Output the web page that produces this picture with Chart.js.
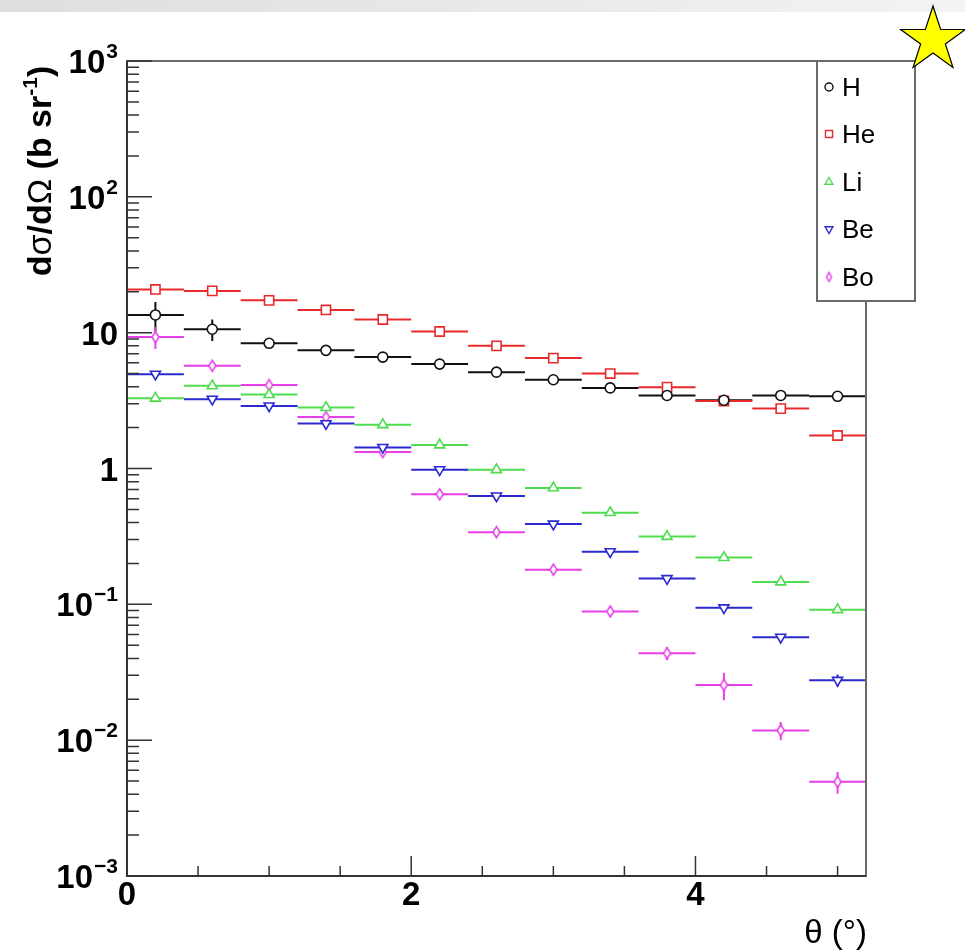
<!DOCTYPE html>
<html>
<head>
<meta charset="utf-8">
<title>dσ/dΩ vs θ</title>
<script src="https://cdn.jsdelivr.net/npm/chart.js@4.4.1/dist/chart.umd.min.js"></script>
<style>
  html, body { margin: 0; padding: 0; background: #fff; }
  #wrap { width: 965px; height: 952px; }
</style>
</head>
<body>
<div id="wrap"><canvas id="xsec" width="965" height="952"></canvas></div>
<script>
// bin centres (deg); every bin is 0.4 deg wide
const THETA = [0.2, 0.6, 1.0, 1.4, 1.8, 2.2, 2.6, 3.0, 3.4, 3.8, 4.2, 4.6, 5.0];
const BIN_HALF = 0.2;

// dσ/dΩ in b/sr, with the statistical error of each bin
const H_VAL  = [13.5, 10.6, 8.35, 7.41, 6.61, 5.87, 5.12, 4.50, 3.92, 3.45, 3.18, 3.45, 3.40];
const H_ERR  = [3.3, 1.9, 0.6, 0.3, 0.2, 0.15, 0.12, 0.1, 0.1, 0.1, 0.12, 0.1, 0.1];
const HE_VAL = [20.8, 20.3, 17.3, 14.7, 12.5, 10.2, 8.0, 6.5, 5.0, 3.97, 3.14, 2.76, 1.75];
const HE_ERR = [0.5, 0.5, 0.4, 0.3, 0.3, 0.2, 0.2, 0.15, 0.12, 0.1, 0.1, 0.08, 0.06];
const LI_VAL = [3.29, 4.06, 3.50, 2.81, 2.10, 1.49, 0.98, 0.72, 0.473, 0.316, 0.221, 0.146, 0.0912];
const LI_ERR = [0.15, 0.15, 0.12, 0.08, 0.06, 0.04, 0.03, 0.02, 0.012, 0.008, 0.006, 0.005, 0.003];
const BE_VAL = [4.95, 3.24, 2.89, 2.14, 1.43, 0.98, 0.628, 0.390, 0.244, 0.155, 0.0944, 0.0573, 0.0276];
const BE_ERR = [0.2, 0.12, 0.1, 0.07, 0.05, 0.03, 0.02, 0.012, 0.008, 0.005, 0.004, 0.003, 0.0028];
const BO_VAL = [9.29, 5.70, 4.11, 2.39, 1.32, 0.646, 0.340, 0.180, 0.0887, 0.0437, 0.0255, 0.0118, 0.00494];
const BO_ERR = [1.7, 0.3, 0.25, 0.15, 0.08, 0.04, 0.02, 0.012, 0.006, 0.0047, 0.0058, 0.0018, 0.0009];

const SPECIES = ['H', 'He', 'Li', 'Be', 'Bo'];

// axis ticks
const Y_DECADES = [-3, -2, -1, 0, 1, 2, 3];
const Y_MINOR_MULT = [2, 3, 4, 5, 6, 7, 8, 9];
const X_MAJOR = [0, 2, 4];
const X_MINOR = [0.5, 1, 1.5, 2.5, 3, 3.5, 4.5, 5];

const FONT = "'Liberation Sans', Arial, Helvetica, sans-serif";

// open diamond, narrower than it is tall
function diamondMarker(color, w, h) {
  const c = document.createElement('canvas');
  c.width = w + 4;
  c.height = h + 4;
  const g = c.getContext('2d');
  g.beginPath();
  g.moveTo(c.width / 2, 2);
  g.lineTo(c.width - 2, c.height / 2);
  g.lineTo(c.width / 2, c.height - 2);
  g.lineTo(2, c.height / 2);
  g.closePath();
  g.fillStyle = '#fff';
  g.fill();
  g.strokeStyle = color;
  g.lineWidth = 1.5;
  g.stroke();
  return c;
}

const STYLE = [
  { color: '#111111', pointStyle: 'circle', radius: 5, rotation: 0, legendRadius: 4 },
  { color: '#ea2a2a', pointStyle: 'rect', radius: 6.5, rotation: 0, legendRadius: 5 },
  { color: '#4fdc4f', pointStyle: 'triangle', radius: 5.8, rotation: 0, legendRadius: 4.5 },
  { color: '#2a2ad0', pointStyle: 'triangle', radius: 5.8, rotation: 180, legendRadius: 4.5 },
  { color: '#e83ee8', pointStyle: null, radius: 5, rotation: 0, legendRadius: 4 },
];
STYLE[4].pointStyle = diamondMarker(STYLE[4].color, 7, 11);

const VALUES = [H_VAL, HE_VAL, LI_VAL, BE_VAL, BO_VAL];
const ERRORS = [H_ERR, HE_ERR, LI_ERR, BE_ERR, BO_ERR];

function toPoints(vals, errs) {
  return THETA.map((t, i) => ({ x: t, y: vals[i], err: errs[i] }));
}

const datasets = SPECIES.map((name, k) => ({
  label: name,
  data: toPoints(VALUES[k], ERRORS[k]),
  showLine: false,
  pointStyle: STYLE[k].pointStyle,
  pointRotation: STYLE[k].rotation,
  pointRadius: STYLE[k].radius,
  pointHoverRadius: STYLE[k].radius,
  pointBorderWidth: 1.6,
  pointBorderColor: STYLE[k].color,
  pointBackgroundColor: '#ffffff',
  borderColor: STYLE[k].color,
}));

// horizontal bin-width bars and vertical error bars
const errorBars = {
  id: 'errorBars',
  beforeDatasetsDraw(chart) {
    const { ctx, chartArea, scales } = chart;
    const xs = scales.x, ys = scales.y;
    ctx.save();
    ctx.beginPath();
    ctx.rect(chartArea.left, chartArea.top, chartArea.right - chartArea.left, chartArea.bottom - chartArea.top);
    ctx.clip();
    ctx.lineWidth = 2;
    chart.data.datasets.forEach((ds, k) => {
      ctx.strokeStyle = STYLE[k].color;
      ds.data.forEach((p) => {
        const py = ys.getPixelForValue(p.y);
        const px = xs.getPixelForValue(p.x);
        ctx.beginPath();
        ctx.moveTo(xs.getPixelForValue(p.x - BIN_HALF), py);
        ctx.lineTo(xs.getPixelForValue(p.x + BIN_HALF), py);
        ctx.moveTo(px, ys.getPixelForValue(p.y + p.err));
        ctx.lineTo(px, ys.getPixelForValue(Math.max(p.y - p.err, 1e-4)));
        ctx.stroke();
      });
    });
    ctx.restore();
  },
};

function drawPower(ctx, exp, right, baseline) {
  const mainFont = 'bold 33px ' + FONT;
  const supFont = 'bold 21px ' + FONT;
  if (exp === 0 || exp === 1) {
    ctx.font = mainFont;
    ctx.textAlign = 'right';
    ctx.fillText(exp === 0 ? '1' : '10', right, baseline);
    return;
  }
  const sup = exp < 0 ? '\u2212' + Math.abs(exp) : String(exp);
  ctx.font = supFont;
  const supW = ctx.measureText(sup).width;
  ctx.textAlign = 'right';
  ctx.fillText(sup, right, baseline - 15);
  ctx.font = mainFont;
  ctx.fillText('10', right - supW - 1, baseline);
}

// frame, ticks, labels, titles, legend and the corner star
const decorations = {
  id: 'decorations',
  beforeDraw(chart) {
    const { ctx, width } = chart;
    ctx.save();
    ctx.fillStyle = '#ffffff';
    ctx.fillRect(0, 0, width, chart.height);
    const band = ctx.createLinearGradient(0, 0, width, 0);
    band.addColorStop(0, '#dedede');
    band.addColorStop(1, '#f3f3f3');
    ctx.fillStyle = band;
    ctx.fillRect(0, 0, width, 12);
    ctx.restore();
  },
  afterDraw(chart) {
    const { ctx, chartArea: a, scales } = chart;
    const xs = scales.x, ys = scales.y;
    ctx.save();

    // frame
    ctx.strokeStyle = '#6a6a6a';
    ctx.lineWidth = 2;
    ctx.strokeRect(a.left, a.top, a.right - a.left, a.bottom - a.top);
    ctx.strokeStyle = '#333333';
    ctx.beginPath();
    ctx.moveTo(a.left, a.top);
    ctx.lineTo(a.left, a.bottom);
    ctx.lineTo(a.right, a.bottom);
    ctx.stroke();

    // y ticks (log)
    ctx.lineWidth = 1.5;
    ctx.strokeStyle = '#333333';
    ctx.beginPath();
    Y_DECADES.forEach((e) => {
      const y = ys.getPixelForValue(Math.pow(10, e));
      ctx.moveTo(a.left, y);
      ctx.lineTo(a.left + 25, y);
      if (e < 3) {
        Y_MINOR_MULT.forEach((m) => {
          const ym = ys.getPixelForValue(m * Math.pow(10, e));
          ctx.moveTo(a.left, ym);
          ctx.lineTo(a.left + 12, ym);
        });
      }
    });
    // x ticks
    X_MAJOR.forEach((v) => {
      const x = xs.getPixelForValue(v);
      ctx.moveTo(x, a.bottom);
      ctx.lineTo(x, a.bottom - 20);
    });
    X_MINOR.forEach((v) => {
      const x = xs.getPixelForValue(v);
      ctx.moveTo(x, a.bottom);
      ctx.lineTo(x, a.bottom - 10);
    });
    ctx.stroke();

    // tick labels
    ctx.fillStyle = '#000000';
    Y_DECADES.forEach((e) => {
      const y = ys.getPixelForValue(Math.pow(10, e));
      drawPower(ctx, e, a.left - 9, y + 12);
    });
    ctx.font = 'bold 33px ' + FONT;
    ctx.textAlign = 'center';
    X_MAJOR.forEach((v) => {
      ctx.fillText(String(v), xs.getPixelForValue(v), a.bottom + 29);
    });

    // x title
    ctx.font = '33px ' + FONT;
    ctx.textAlign = 'right';
    ctx.fillText('\u03b8 (\u00b0)', a.right + 1, 943);

    // y title, rotated; σ and Ω set in the regular weight
    const parts = [
      ['d', 'bold 34px', 0], ['\u03c3', '34px', 0], ['/d', 'bold 34px', 0], ['\u03a9', '34px', 0],
      [' (b sr', 'bold 34px', 0], ['-1', 'bold 21px', -14], [')', 'bold 34px', 0],
    ];
    let total = 0;
    parts.forEach((p) => { ctx.font = p[1] + ' ' + FONT; total += ctx.measureText(p[0]).width; });
    ctx.translate(51, 171);
    ctx.rotate(-Math.PI / 2);
    ctx.textAlign = 'left';
    let cx = -total / 2;
    parts.forEach((p) => {
      ctx.font = p[1] + ' ' + FONT;
      ctx.fillText(p[0], cx, p[2]);
      cx += ctx.measureText(p[0]).width;
    });
    ctx.setTransform(1, 0, 0, 1, 0, 0);

    // legend
    const lg = { left: 817, top: a.top, right: 915, bottom: 301 };
    ctx.fillStyle = '#ffffff';
    ctx.fillRect(lg.left, lg.top, lg.right - lg.left, lg.bottom - lg.top);
    ctx.strokeStyle = '#6a6a6a';
    ctx.lineWidth = 2;
    ctx.strokeRect(lg.left, lg.top, lg.right - lg.left, lg.bottom - lg.top);
    const rowY = [87, 134, 182, 229, 277];
    SPECIES.forEach((name, k) => {
      const st = STYLE[k];
      ctx.fillStyle = '#ffffff';
      ctx.strokeStyle = st.color;
      ctx.lineWidth = 1.4;
      let style = st.pointStyle;
      if (k === 4) style = diamondMarker(st.color, 5, 9);
      Chart.helpers.drawPoint(ctx, {
        pointStyle: style, rotation: st.rotation, radius: st.legendRadius, borderWidth: 1.4,
      }, 829, rowY[k]);
      ctx.fillStyle = '#000000';
      ctx.font = '26px ' + FONT;
      ctx.textAlign = 'left';
      ctx.fillText(name, 842, rowY[k] + 9);
    });

    // star in the corner
    const sx = 933, sy = 40, R = 34, r = 13;
    ctx.beginPath();
    for (let i = 0; i < 10; i++) {
      const rad = i % 2 === 0 ? R : r;
      const ang = -Math.PI / 2 + i * Math.PI / 5;
      const px = sx + rad * Math.cos(ang), py = sy + rad * Math.sin(ang);
      if (i === 0) ctx.moveTo(px, py); else ctx.lineTo(px, py);
    }
    ctx.closePath();
    ctx.fillStyle = '#ffff00';
    ctx.fill();
    ctx.strokeStyle = '#000000';
    ctx.lineWidth = 1.2;
    ctx.stroke();

    ctx.restore();
  },
};

new Chart(document.getElementById('xsec'), {
  type: 'scatter',
  data: { datasets },
  options: {
    responsive: false,
    animation: false,
    devicePixelRatio: 1,
    layout: { padding: { left: 127, right: 99, top: 61, bottom: 76 } },
    plugins: { legend: { display: false }, tooltip: { enabled: false } },
    scales: {
      x: { type: 'linear', min: 0, max: 5.2, display: false },
      y: { type: 'logarithmic', min: 1e-3, max: 1e3, display: false },
    },
  },
  plugins: [errorBars, decorations],
});
</script>
</body>
</html>
